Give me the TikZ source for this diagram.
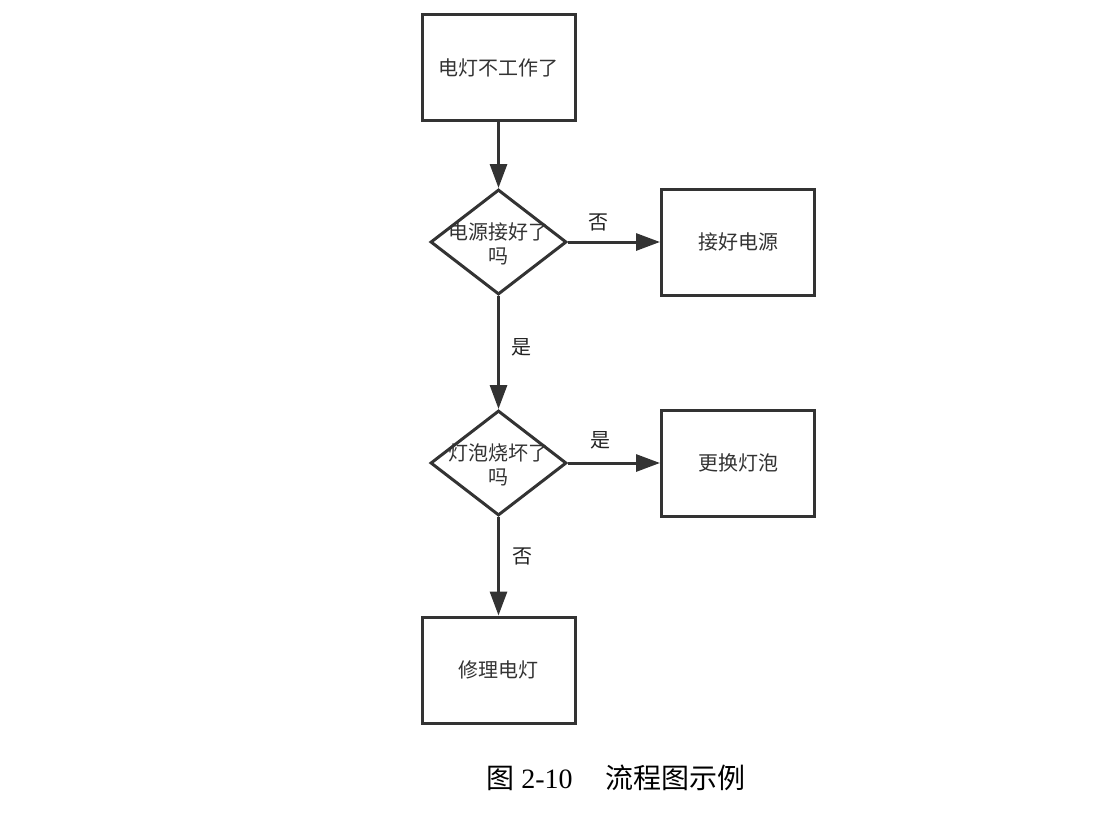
\documentclass[tikz,border=0pt]{standalone}
\usepackage{fontspec}
\setmainfont{Liberation Serif}
\newfontfamily\cjk{Noto Sans CJK SC}
\usetikzlibrary{shapes.geometric,arrows.meta}
\definecolor{ink}{HTML}{333333}
\definecolor{lbl}{HTML}{222222}
\begin{document}
\begin{tikzpicture}[x=1pt,y=-1pt,
  box/.style={draw=ink, line width=3pt, minimum width=153pt, minimum height=106pt,
    inner sep=0pt, text=ink, font=\cjk\fontsize{20}{24}\selectfont},
  dia/.style={draw=ink, line width=3pt, shape=diamond, minimum width=136pt,
    minimum height=105pt, inner sep=0pt},
  diatext/.style={text=ink, align=center, inner sep=0pt, font=\cjk\fontsize{20}{24}\selectfont},
  edgelbl/.style={text=lbl, inner sep=0pt, font=\cjk\fontsize{20}{24}\selectfont},
  conn/.style={draw=ink, line width=3pt, -{Triangle[length=24pt,width=17pt]}},
]
\useasboundingbox (0,0) rectangle (1105,814);

\node[box] (b1) at (498.5,67.5) {电灯不工作了};
\node[dia] (d1) at (498.5,242) {};
\node[diatext] (t1) at (498.5,244) {电源接好了\\吗};
\node[box] (b2) at (738,242) {接好电源};
\node[dia] (d2) at (498.5,463) {};
\node[diatext] (t2) at (498.5,465) {灯泡烧坏了\\吗};
\node[box] (b3) at (738,463) {更换灯泡};
\node[box] (b4) at (498.5,670) {修理电灯};

\draw[conn] (b1.south) -- (d1.north);
\draw[conn] (d1.east) -- (b2.west);
\draw[conn] (d1.south) -- (d2.north);
\draw[conn] (d2.east) -- (b3.west);
\draw[conn] (d2.south) -- (b4.north);

\node[edgelbl] (l1) at (598,222) {否};
\node[edgelbl] (l2) at (521,347) {是};
\node[edgelbl] (l3) at (600,440) {是};
\node[edgelbl] (l4) at (522,556) {否};

\node[inner sep=0pt, font=\fontsize{28}{32}\selectfont] (cap) at (616,778)
  {{\cjk 图}~2-10\hspace{33pt}{\cjk 流程图示例}};
\end{tikzpicture}
\end{document}
